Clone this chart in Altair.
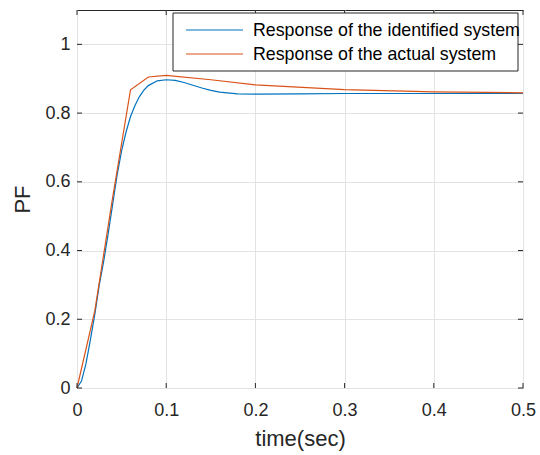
import altair as alt
import pandas as pd

# ---- data ----
series_names = ["Response of the identified system", "Response of the actual system"]
series_colors = ["#0072BD", "#D95319"]

t_identified = [0, 0.005, 0.01, 0.015, 0.02, 0.025, 0.03, 0.035, 0.04, 0.045, 0.05,
                0.055, 0.06, 0.065, 0.07, 0.075, 0.08, 0.09, 0.1, 0.11, 0.12, 0.13,
                0.14, 0.15, 0.16, 0.18, 0.2, 0.25, 0.3, 0.4, 0.5]
v_identified = [0, 0.02, 0.07, 0.14, 0.215, 0.30, 0.37, 0.45, 0.535, 0.62, 0.69,
                0.745, 0.79, 0.822, 0.848, 0.867, 0.880, 0.894, 0.897, 0.895, 0.889, 0.881,
                0.873, 0.866, 0.861, 0.856, 0.855, 0.856, 0.857, 0.857, 0.857]

t_actual = [0, 0.02, 0.04, 0.06, 0.08, 0.1, 0.15, 0.2, 0.3, 0.4, 0.5]
v_actual = [0, 0.225, 0.555, 0.868, 0.905, 0.910, 0.897, 0.882, 0.868, 0.862, 0.859]

x_ticks = [0, 0.1, 0.2, 0.3, 0.4, 0.5]
y_ticks = [0, 0.2, 0.4, 0.6, 0.8, 1.0]

x_title = "time(sec)"
y_title = "PF"

# ---- build tables ----
df = pd.concat([
    pd.DataFrame({"t": t_identified, "v": v_identified, "series": series_names[0], "k": 0}),
    pd.DataFrame({"t": t_actual, "v": v_actual, "series": series_names[1], "k": 1}),
])

W, H = 446, 378
FONT = "Liberation Sans"
INK = "#262626"
TICK = 5

xs = alt.Scale(domain=[0, 0.5], nice=False, zero=False)
ys = alt.Scale(domain=[0, 1.1], nice=False, zero=False)

x_axis = alt.Axis(values=x_ticks, format="~g", title=x_title, grid=True, ticks=False,
                  domain=False, labelPadding=13, titlePadding=9, labelFlush=False)
y_axis = alt.Axis(values=y_ticks, format="~g", title=y_title, grid=True, ticks=False,
                  domain=False, labelPadding=7, titlePadding=10, labelFlush=False)

lines = alt.Chart(df).mark_line(strokeWidth=1.2).encode(
    x=alt.X("t:Q", scale=xs, axis=x_axis),
    y=alt.Y("v:Q", scale=ys, axis=y_axis),
    color=alt.Color("series:N", scale=alt.Scale(domain=series_names, range=series_colors), legend=None),
    detail="k:N",
)

xt = pd.DataFrame({"t": x_ticks})
yt = pd.DataFrame({"v": y_ticks})

xtick_bottom = alt.Chart(xt).mark_rule(color=INK, strokeWidth=1).encode(
    x="t:Q", y=alt.value(H), y2=alt.value(H - TICK))
xtick_top = alt.Chart(xt).mark_rule(color=INK, strokeWidth=1).encode(
    x="t:Q", y=alt.value(0), y2=alt.value(TICK))
ytick_left = alt.Chart(yt).mark_rule(color=INK, strokeWidth=1).encode(
    y="v:Q", x=alt.value(0), x2=alt.value(TICK))
ytick_right = alt.Chart(yt).mark_rule(color=INK, strokeWidth=1).encode(
    y="v:Q", x=alt.value(W), x2=alt.value(W - TICK))

# ---- legend (drawn manually, matching the boxed legend) ----
one = pd.DataFrame({"a": [0]})
leg_box = alt.Chart(one).mark_rect(fill="white", stroke=INK, strokeWidth=1).encode(
    x=alt.value(96), x2=alt.value(441), y=alt.value(3), y2=alt.value(61))
leg_layers = [leg_box]
row_y = [20, 44]
for name, col, yy in zip(series_names, series_colors, row_y):
    leg_layers.append(alt.Chart(one).mark_rule(color=col, strokeWidth=1.2).encode(
        x=alt.value(109), x2=alt.value(166), y=alt.value(yy)))
    leg_layers.append(alt.Chart(pd.DataFrame({"label": [name]})).mark_text(
        align="left", baseline="middle", font=FONT, fontSize=17.8, color="#000000").encode(
        x=alt.value(176), y=alt.value(yy + 1), text="label:N"))

chart = alt.layer(lines, xtick_bottom, xtick_top, ytick_left, ytick_right, *leg_layers).properties(
    width=W, height=H,
    autosize=alt.AutoSizeParams(type="none"),
    padding={"left": 77, "top": 10, "right": 17, "bottom": 67},
    background="white",
).configure_view(
    stroke=INK, strokeWidth=1
).configure_axis(
    labelFont=FONT, titleFont=FONT, labelFontSize=18, titleFontSize=22,
    labelColor=INK, titleColor=INK, titleFontWeight="normal",
    gridColor="#e3e3e3", gridWidth=1,
)

chart.save("out.html", embed_options={"renderer": "svg", "actions": False})
